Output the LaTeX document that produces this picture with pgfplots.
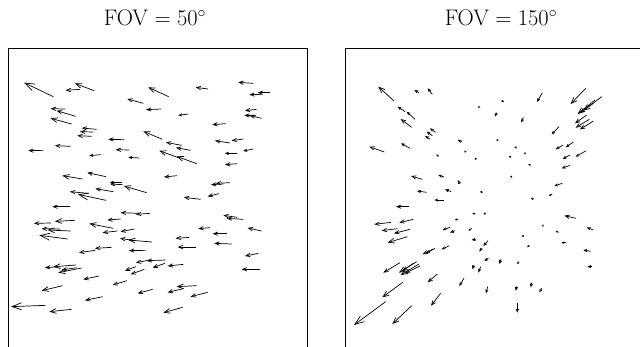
\RequirePackage{fix-cm}
\documentclass[border=0pt]{standalone}
\usepackage{pgfplots}
\usepackage{pgfplotstable}
\pgfplotsset{compat=1.18}
\usetikzlibrary{arrows.meta}

% Left panel (FOV = 50), coordinates in zoomed pixel units: x y u v
\pgfplotstableread{
x y u v
565 222 -30 4
302 344 -34 3
418 354 -33 -2
710 340 -35 0
760 327 -30 6
365 427 -35 0
}\LB
\pgfplotstableread{
x y u v
240 148 -43 3
624 147 -37 -5
760 130 -45 -3
785 163 -37 1
810 158 -37 0
430 190 -48 -13
483 207 -45 2
195 207 -43 -1
227 229 -57 -17
770 208 -35 4
768 227 -35 -1
785 235 -37 -9
290 268 -45 -4
280 276 -40 -1
275 289 -43 -2
373 299 -48 -1
677 251 -40 3
690 309 -45 -7
730 297 -35 5
130 331 -45 1
212 319 -47 -2
387 330 -40 -1
545 316 -47 -9
572 331 -44 -8
711 371 -36 3
318 410 -56 -12
531 407 -39 4
368 434 -38 -2
670 432 -37 2
690 428 -42 2
265 460 -55 -5
340 455 -54 -9
602 478 -50 -6
657 461 -34 8
210 500 -53 0
415 520 -53 -2
450 520 -42 3
712 532 -42 -6
730 538 -50 -3
153 549 -51 1
362 537 -40 3
180 567 -55 -1
352 573 -44 5
403 567 -41 8
630 563 -35 3
680 581 -42 0
785 573 -42 -9
405 602 -45 -7
568 592 -41 3
587 621 -54 0
695 612 -52 -2
286 631 -49 7
335 622 -50 3
437 631 -50 1
775 640 -40 8
445 661 -37 7
497 660 -57 2
408 680 -33 12
433 688 -41 15
495 670 -37 13
550 673 -47 5
180 680 -45 3
230 683 -45 7
780 688 -55 0
297 708 -47 10
381 722 -43 13
458 748 -45 12
550 746 -47 11
623 757 -51 13
308 770 -53 11
}\LC
\pgfplotstableread{
x y u v
282 152 -57 -22
506 170 -61 -28
215 252 -63 -17
487 298 -57 -24
535 353 -57 -21
590 371 -60 -22
248 417 -61 -10
440 458 -68 -20
225 541 -60 3
340 565 -72 -14
212 573 -69 -3
456 606 -71 -6
228 675 -68 5
245 684 -70 14
188 737 -63 15
590 737 -60 3
215 808 -67 7
548 802 -58 16
}\LD
\pgfplotstableread{
x y u v
160 170 -88 -42
318 481 -84 -18
203 597 -85 -11
137 796 -104 4
}\LE

% Right panel (FOV = 150)
\pgfplotstableread{
x y u v
478 202 -3 -4
553 183 -10 0
533 302 -3 -5
590 322 -7 1
615 340 -3 -2
437 336 -4 -4
355 350 -5 -7
468 358 -3 -5
573 352 -6 -4
632 375 -7 -2
577 410 -7 0
488 457 -8 -2
697 462 -10 5
642 477 -9 -2
466 520 -9 2
497 520 -7 2
415 537 -10 3
455 565 -9 7
668 557 -3 1
716 577 -9 -4
607 588 -2 0
628 615 -6 7
737 608 -12 0
597 665 -5 7
}\RA
\pgfplotstableread{
x y u v
297 158 -14 -8
337 163 -14 -18
667 158 -16 28
255 215 -22 -15
285 238 -25 -23
530 218 -5 12
610 232 -7 16
717 260 -22 23
347 277 -17 -12
337 287 -17 -12
330 297 -15 -9
270 325 -27 -15
425 305 -12 -5
728 316 -21 12
760 306 -23 16
797 333 -30 17
750 345 -22 12
750 376 -25 9
372 411 -17 -6
420 432 -7 -12
727 430 -24 8
320 457 -29 -4
393 455 -18 -7
372 480 -29 0
390 562 -22 8
405 572 -15 6
820 570 -20 -8
467 598 -12 2
504 602 -14 16
485 625 -7 10
345 625 -27 15
388 617 -23 11
812 634 -22 -4
505 655 -12 8
543 658 -5 14
815 680 -13 0
462 675 -5 13
482 680 -7 18
432 715 -14 23
503 740 -5 20
590 740 -3 12
635 728 -3 14
665 745 -7 12
592 790 0 28
}\RB
\pgfplotstableread{
x y u v
820 190 -40 28
275 262 -33 -25
800 225 -35 25
808 238 -41 25
820 243 -40 25
193 336 -45 -16
307 418 -34 -10
268 500 -40 0
213 547 -50 6
280 538 -42 10
232 566 -47 6
270 568 -48 12
768 535 -35 -8
340 627 -32 16
240 668 -50 30
300 678 -45 22
280 670 -33 23
352 702 -29 25
362 760 -29 37
}\RC
\pgfplotstableread{
x y u v
222 183 -47 -43
797 145 -45 47
825 180 -52 42
845 170 -55 42
262 590 -59 18
290 665 -53 33
297 672 -55 33
248 727 -61 45
275 797 -58 55
}\RD
\pgfplotstableread{
x y u v
197 785 -95 70
}\RE

\tikzset{
  hA/.style={-{Straight Barb[length=1.3pt,width=1.6pt]}},
  hB/.style={-{Straight Barb[length=2.8pt,width=2.4pt]}},
  hC/.style={-{Straight Barb[length=4.2pt,width=3.4pt]}},
  hD/.style={-{Straight Barb[length=6pt,width=4.8pt]}},
  hE/.style={-{Straight Barb[length=9.5pt,width=7pt]}},
}
\pgfplotsset{
  panel/.style={
    scale only axis, width=299pt, height=299pt,
    y dir=reverse, ymin=24, ymax=921,
    xtick=\empty, ytick=\empty,
    axis line style={black, line width=1pt},
    anchor=south west,
  },
  arr/.style={black, line width=0.7pt, quiver={u=\thisrow{u}, v=\thisrow{v}, every arrow/.append style={#1}}},
}

\begin{document}
\begin{tikzpicture}[x=1pt,y=1pt]
\begin{axis}[panel, at={(9pt,-1pt)}, xmin=27, xmax=924]
\addplot[arr=hB] table {\LB};
\addplot[arr=hC] table {\LC};
\addplot[arr=hD] table {\LD};
\addplot[arr=hE] table {\LE};
\end{axis}
\begin{axis}[panel, at={(345pt,-1pt)}, xmin=75, xmax=972]
\addplot[arr=hA] table {\RA};
\addplot[arr=hB] table {\RB};
\addplot[arr=hC] table {\RC};
\addplot[arr=hD] table {\RD};
\addplot[arr=hE] table {\RE};
\end{axis}
\node[anchor=base, font=\fontsize{22.5}{26}\selectfont] at (155,320.3) {$\mathrm{FOV} = 50^\circ$};
\node[anchor=base, font=\fontsize{22.5}{26}\selectfont] at (501,320.3) {$\mathrm{FOV} = 150^\circ$};
\pgfresetboundingbox
\useasboundingbox (0,0) rectangle (640,346);
\end{tikzpicture}
\end{document}
